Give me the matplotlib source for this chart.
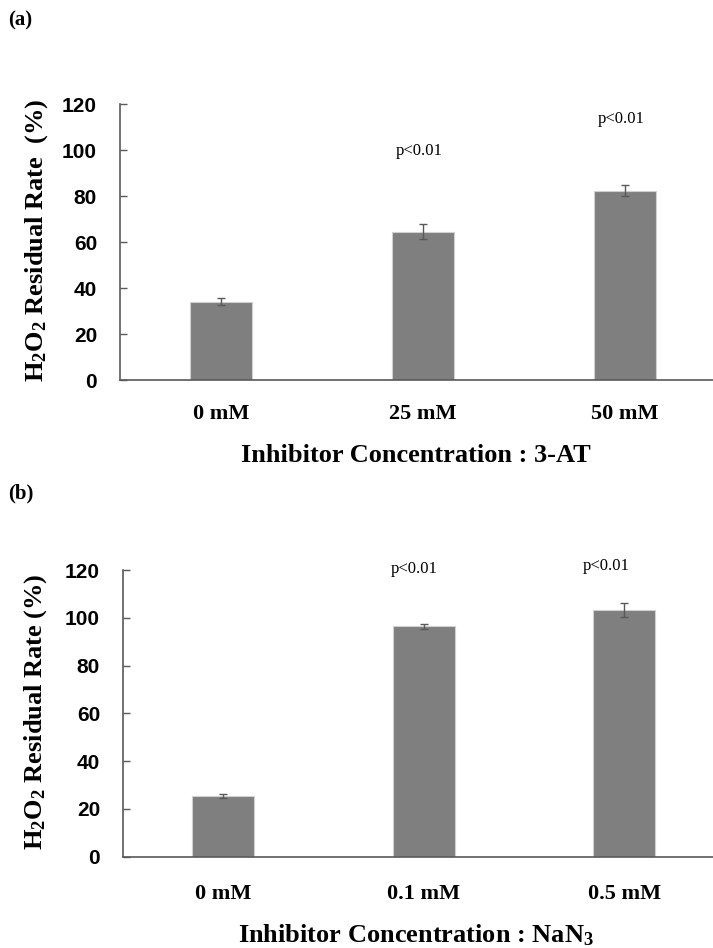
import matplotlib
matplotlib.use("Agg")
import matplotlib.pyplot as plt

plt.rcParams["mathtext.fontset"] = "custom"
plt.rcParams["mathtext.rm"] = "Liberation Serif:bold"
plt.rcParams["mathtext.bf"] = "Liberation Serif:bold"
plt.rcParams["mathtext.it"] = "Liberation Serif:bold"

# Data
cats_a = ["0 mM", "25 mM", "50 mM"]
vals_a = [34.0, 64.5, 82.3]
errs_a = [1.5, 3.3, 2.3]
sig_a = ["", "p<0.01", "p<0.01"]
sig_y_a = [None, 99.7, 113.5]

cats_b = ["0 mM", "0.1 mM", "0.5 mM"]
vals_b = [25.4, 96.4, 103.1]
errs_b = [1.0, 1.0, 2.9]
sig_b = ["", "p<0.01", "p<0.01"]
sig_y_b = [None, 120.4, 121.7]

yticks = [0, 20, 40, 60, 80, 100, 120]

W, H = 713, 948
fig = plt.figure(figsize=(W / 100, H / 100), dpi=100)

serif = "Liberation Serif"
sans = "Liberation Sans"

bar_color = "#7f7f7f"
spine_color = "#595959"


def panel(rect, cats, vals, errs, sig, sig_y, sig_dx, pad):
    ax = fig.add_axes(rect)
    x = list(range(len(cats)))
    ax.bar(x, vals, width=0.31, color=bar_color, edgecolor="#d0d0d0", linewidth=0.8,
           yerr=errs, error_kw=dict(ecolor=spine_color, elinewidth=1.0, capsize=3, capthick=1.0))
    ax.set_xlim(-0.5, 2.5)
    ax.set_ylim(0, 120)
    ax.set_yticks(yticks)
    ax.set_xticks(x)
    ax.set_xticklabels(cats, fontfamily=serif, fontweight="bold", fontsize=16)
    for lab in ax.get_yticklabels():
        lab.set_fontfamily(sans)
        lab.set_fontweight("bold")
        lab.set_fontsize(15)
    ax.tick_params(axis="y", direction="in", length=5, width=1, color=spine_color, pad=16.5)
    ax.tick_params(axis="x", length=0, pad=pad)
    for s in ["top", "right"]:
        ax.spines[s].set_visible(False)
    for s in ["left", "bottom"]:
        ax.spines[s].set_color(spine_color)
        ax.spines[s].set_linewidth(1.2)
    for xi, t, yy, dx in zip(x, sig, sig_y, sig_dx):
        if t:
            ax.text(xi + dx, yy, t, ha="center", va="center", fontfamily=serif, fontsize=12)
    return ax


ax_a = panel([120 / W, 1 - 380 / H, 606 / W, 276 / H], cats_a, vals_a, errs_a, sig_a, sig_y_a,
             [0, -0.02, -0.02], 17)
ax_b = panel([123 / W, 1 - 856.7 / H, 601.5 / W, 286.7 / H], cats_b, vals_b, errs_b, sig_b, sig_y_b,
             [0, -0.05, -0.09], 20)

# y labels
fig.text(37 / W, 1 - 240 / H, r"H$_{2}$O$_{2}$ Residual Rate  (%)", rotation=90,
         ha="center", va="center", fontfamily=serif, fontweight="bold", fontsize=19)
fig.text(36 / W, 1 - 712 / H, r"H$_{2}$O$_{2}$ Residual Rate (%)", rotation=90,
         ha="center", va="center", fontfamily=serif, fontweight="bold", fontsize=19)

# x titles
fig.text(416 / W, 1 - 456 / H, "Inhibitor Concentration : 3-AT", ha="center", va="center",
         fontfamily=serif, fontweight="bold", fontsize=19)
fig.text(416 / W, 1 - 935 / H, r"Inhibitor Concentration : NaN$_{3}$", ha="center", va="center",
         fontfamily=serif, fontweight="bold", fontsize=19)

# panel letters
fig.text(8 / W, 1 - 20 / H, "(a)", ha="left", va="center", fontfamily=serif, fontweight="bold", fontsize=15)
fig.text(8 / W, 1 - 493 / H, "(b)", ha="left", va="center", fontfamily=serif, fontweight="bold", fontsize=15)

fig.savefig("out.png", dpi=100)
